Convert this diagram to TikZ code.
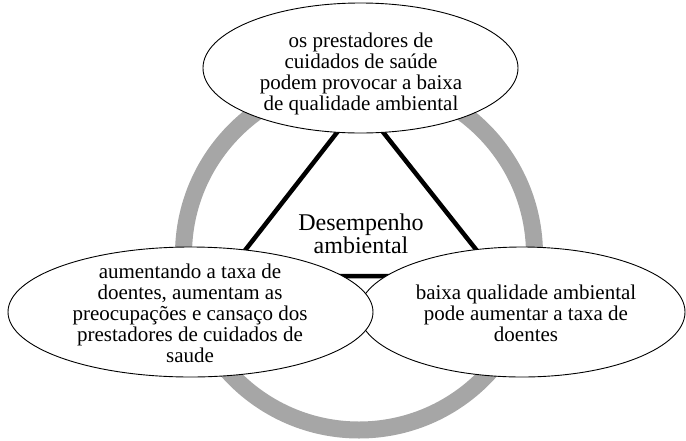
\documentclass[tikz,border=0pt]{standalone}
\usepackage{fontspec}
\setmainfont{Liberation Serif}
\usetikzlibrary{shapes.geometric}
\definecolor{ringgray}{RGB}{166,166,166}
\begin{document}
\begin{tikzpicture}[x=1pt,y=-1pt,
  bubble/.style={ellipse, draw=black, line width=0.9pt, fill=white, inner sep=0pt},
  bubbletext/.style={align=center, font=\fontsize{21}{21}\selectfont, inner sep=0pt},
  centertext/.style={align=center, font=\fontsize{24}{23.5}\selectfont, inner sep=0pt},
  tri/.style={line width=4.5pt, line join=miter}]
\useasboundingbox (0,0) rectangle (686,440);
\node[circle, draw=ringgray, line width=17pt, minimum size=351pt, inner sep=0pt] (ring) at (359,254.5) {};
\coordinate (tA) at (360,103);
\coordinate (tB) at (225,276);
\coordinate (tC) at (497,276);
\draw[tri] (tA) -- (tB) -- (tC) -- cycle;
\node[centertext] (center) at (361,234) {Desempenho\\ambiental};
\node[bubble, minimum width=315pt, minimum height=130pt] (top) at (360.5,68) {};
\node[bubble, minimum width=326pt, minimum height=130pt] (right) at (522,312) {};
\node[bubble, minimum width=365pt, minimum height=130pt] (left) at (190.5,312) {};
\node[bubbletext] (toptext) at (361,74) {os prestadores de\\cuidados de saúde\\podem provocar a baixa\\de qualidade ambiental};
\node[bubbletext] (righttext) at (526,313) {baixa qualidade ambiental\\pode aumentar a taxa de\\doentes};
\node[bubbletext] (lefttext) at (190,313) {aumentando a taxa de\\doentes, aumentam as\\preocupações e cansaço dos\\prestadores de cuidados de\\saude};
\end{tikzpicture}
\end{document}
